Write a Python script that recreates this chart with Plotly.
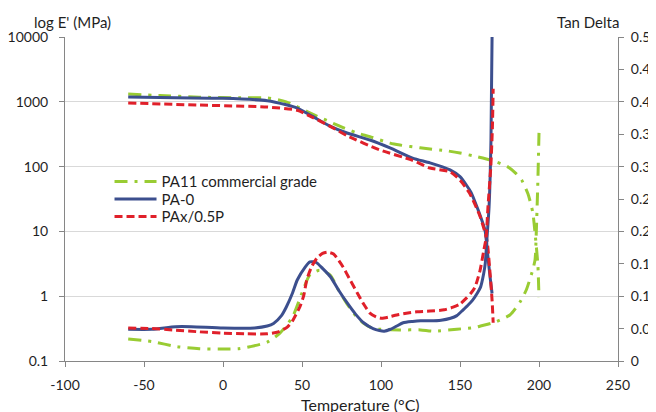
import plotly.graph_objects as go

# ---- E' (MPa), left log axis ----
T_E_pa11 = [-60, -40, -15, 10, 28, 40, 55, 72, 84.8, 93, 105.7, 112, 124.7, 141.8, 150, 160.8, 170, 180, 185, 189, 193, 196, 198, 199.3, 200]
E_pa11 = [1316, 1250, 1180, 1150, 1150, 1000, 675, 440, 330, 290, 230, 215, 195, 175, 162, 142, 125, 100, 80, 62, 38, 20, 7, 3, 0.95]

T_E_pa0 = [-60, -30, 0, 28, 40, 47, 57, 67, 78.5, 93, 105.7, 120, 131, 143.7, 150, 154, 157, 160.7, 163, 165.8, 167.7, 169, 170.3]
E_pa0 = [1190, 1150, 1130, 1040, 900, 800, 590, 430, 330, 257, 194, 135, 114, 89, 70, 52, 40, 24, 17, 10.5, 4, 2, 1.1]

T_E_pax = [-60, -15, 28, 47, 57, 67, 78.5, 99, 120, 131, 143.7, 150, 156, 162.7, 167, 169, 170.3, 171]
E_pax = [960, 890, 830, 740, 570, 430, 300, 182, 125, 95, 83, 62, 39, 17, 7.4, 2.3, 0.87, 0.39]

# ---- Tan Delta, right axis ----
T_tan_pa11 = [-60, -45, -29, -15, -2, 10, 17, 28, 36, 44, 50, 55, 61, 67.7, 73, 78.5, 84, 89, 95, 100, 112, 125, 133, 148, 160, 163, 171, 181.6, 188, 192, 195.6, 197.5, 198.3, 199.2, 200]
tan_pa11 = [0.034, 0.030, 0.022, 0.019, 0.0185, 0.019, 0.022, 0.029, 0.043, 0.068, 0.105, 0.133, 0.140, 0.133, 0.11, 0.088, 0.07, 0.058, 0.05, 0.049, 0.048, 0.048, 0.046, 0.049, 0.052, 0.054, 0.059, 0.071, 0.091, 0.11, 0.137, 0.156, 0.2, 0.27, 0.352]

T_tan_pa0 = [-60, -45, -30, -20, 0, 20, 28, 32, 37, 40, 44, 47, 52, 55, 59, 63, 68, 73, 78.5, 84, 89, 95, 99, 102, 106, 110, 114, 120, 125, 131, 138, 144, 148, 152, 155, 158, 161, 163, 165, 166, 167, 168.4, 169.6, 170.3]
tan_pa0 = [0.049, 0.049, 0.053, 0.053, 0.051, 0.051, 0.054, 0.058, 0.07, 0.083, 0.105, 0.125, 0.145, 0.153, 0.152, 0.143, 0.13, 0.11, 0.09, 0.072, 0.059, 0.05, 0.047, 0.046, 0.049, 0.054, 0.059, 0.061, 0.062, 0.062, 0.063, 0.066, 0.07, 0.079, 0.086, 0.094, 0.105, 0.114, 0.135, 0.151, 0.187, 0.238, 0.341, 0.5]

T_tan_pax = [-60, -45, -32, -15, 0, 15, 28, 35, 40.5, 44, 48.7, 51, 53, 56, 59.5, 63, 66, 70, 76, 80, 85, 89, 93, 97, 100.6, 105, 110, 117, 122.8, 131, 140, 145.6, 150, 154, 157, 159.5, 162.7, 165, 166.5, 167.7, 169.5, 170.5, 171]
tan_pax = [0.051, 0.050, 0.048, 0.045, 0.043, 0.042, 0.042, 0.045, 0.052, 0.062, 0.084, 0.1, 0.125, 0.145, 0.159, 0.166, 0.168, 0.165, 0.145, 0.127, 0.105, 0.088, 0.074, 0.068, 0.066, 0.068, 0.071, 0.074, 0.076, 0.077, 0.079, 0.083, 0.088, 0.097, 0.105, 0.114, 0.14, 0.17, 0.19, 0.238, 0.3, 0.36, 0.42]

x_ticks = [-100, -50, 0, 50, 100, 150, 200, 250]
x_tick_labels = ["-100", "-50", "0", "50", "100", "150", "200", "250"]
y_ticks = [0.1, 1, 10, 100, 1000, 10000]
y_tick_labels = ["0.1", "1", "10", "100", "1000", "10000"]

names = ["PA11 commercial grade", "PA-0", "PAx/0.5P"]
colors = ["#99CC33", "#3C4F8E", "#E0202A"]
dashes = ["13px,7px,3px,7px", "solid", "8px,4px"]
legend_ids = ["legend", "legend2", "legend3"]

FONT = "Lato"
TXT = "#1f1f1f"
fig = go.Figure()

E_sets = [(T_E_pa11, E_pa11), (T_E_pa0, E_pa0), (T_E_pax, E_pax)]
tan_sets = [(T_tan_pa11, tan_pa11), (T_tan_pa0, tan_pa0), (T_tan_pax, tan_pax)]

for i in range(3):
    fig.add_trace(go.Scatter(x=E_sets[i][0], y=E_sets[i][1], name=names[i], mode="lines",
                             line=dict(color=colors[i], width=3, dash=dashes[i], shape="spline", smoothing=0.6),
                             yaxis="y", showlegend=True, legend=legend_ids[i]))
for i in range(3):
    fig.add_trace(go.Scatter(x=tan_sets[i][0], y=tan_sets[i][1], name=names[i], mode="lines",
                             line=dict(color=colors[i], width=3, dash=dashes[i], shape="spline", smoothing=0.6),
                             yaxis="y2", showlegend=False))

axis_font = dict(family=FONT, size=14, color=TXT)
leg_common = dict(x=0.0805, xanchor="left", yanchor="middle", bgcolor="rgba(0,0,0,0)",
                  font=dict(family=FONT, size=15, color=TXT), itemwidth=42, borderwidth=0)

# page body has an 8px margin: figure is 648x404 so the page is 656x412
fig.update_layout(
    width=648, height=404,
    margin=dict(l=57, r=38, t=29, b=51),
    paper_bgcolor="white", plot_bgcolor="white",
    font=dict(family=FONT, size=15, color=TXT),
    xaxis=dict(range=[-100, 250], tickvals=x_ticks, ticktext=x_tick_labels, showgrid=False, zeroline=False,
               showline=True, linecolor="#868686", linewidth=1, ticks="outside", ticklen=5,
               tickcolor="#868686", tickfont=axis_font, automargin=False, ticklabelstandoff=6),
    yaxis=dict(type="log", range=[-1, 4], tickvals=y_ticks, ticktext=y_tick_labels,
               showgrid=True, gridcolor="#D9D9D9", gridwidth=1, zeroline=False,
               showline=True, linecolor="#868686", linewidth=1, ticks="outside", ticklen=5,
               tickcolor="#868686", tickfont=axis_font, automargin=False, ticklabelstandoff=8),
    yaxis2=dict(range=[0, 0.5], dtick=0.05, tick0=0, overlaying="y", side="right",
                showgrid=False, zeroline=False, showline=True, linecolor="#868686", linewidth=1,
                ticks="outside", ticklen=5, tickcolor="#868686", tickfont=axis_font,
                automargin=False, ticklabelstandoff=4),
    legend=dict(y=0.553, **leg_common),
    legend2=dict(y=0.499, **leg_common),
    legend3=dict(y=0.445, **leg_common),
    annotations=[
        dict(text="log E' (MPa)", xref="paper", yref="paper", x=(32 - 65) / 553, y=1.0, xanchor="left",
             yanchor="middle", yshift=15, showarrow=False, font=dict(family=FONT, size=15, color=TXT)),
        dict(text="Tan Delta", xref="paper", yref="paper", x=(621 - 65) / 553, y=1.0, xanchor="right",
             yanchor="middle", yshift=15, showarrow=False, font=dict(family=FONT, size=15, color=TXT)),
        dict(text="Temperature (°C)", xref="paper", yref="paper", x=(360 - 65) / 553, y=0.0, xanchor="center",
             yanchor="middle", yshift=-43, showarrow=False, font=dict(family=FONT, size=16, color=TXT)),
    ],
)

fig.write_html("out.html")
